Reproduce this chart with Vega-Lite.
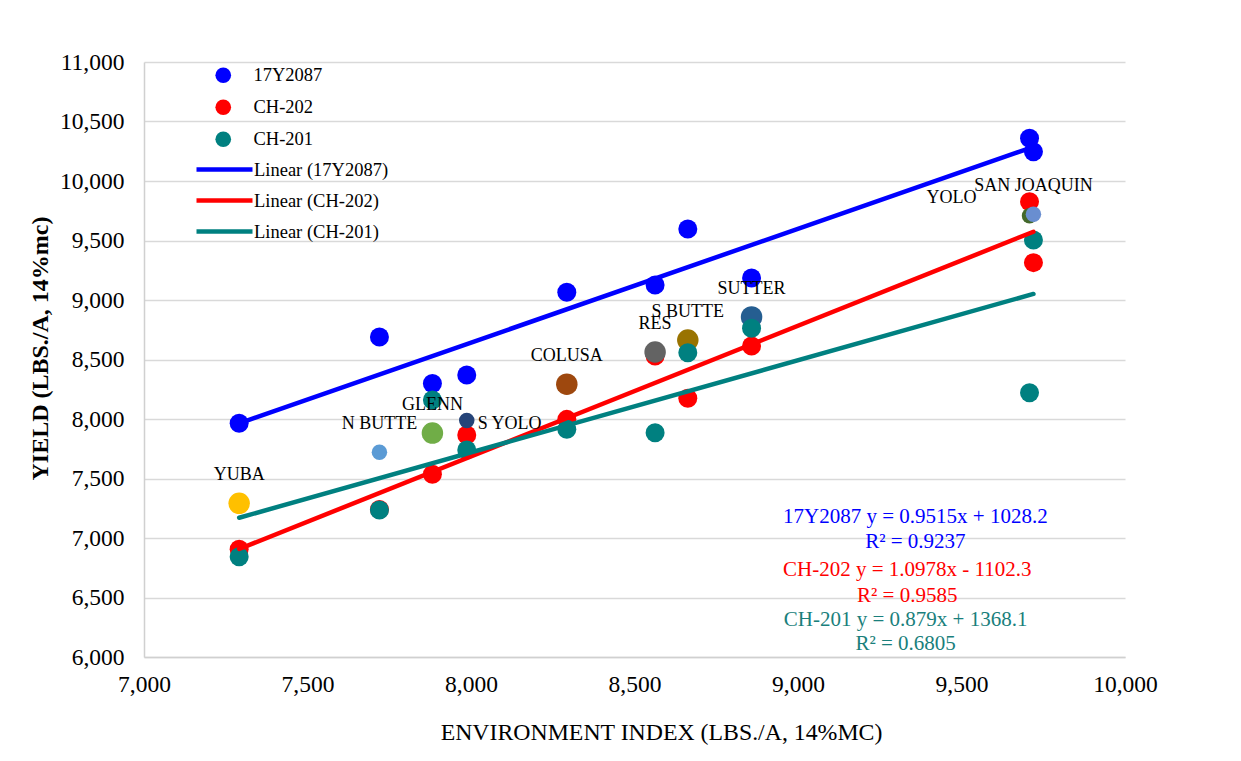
{
  "$schema": "https://vega.github.io/schema/vega-lite/v6.json",
  "width": 981,
  "height": 595,
  "autosize": {"type": "none"},
  "padding": {"left": 144, "top": 62, "right": 116, "bottom": 104},
  "background": "white",
  "config": {
    "font": "Liberation Serif",
    "view": {"stroke": null},
    "axis": {
      "labelFont": "Liberation Serif",
      "labelFontSize": 23.5,
      "labelColor": "#000000",
      "titleFont": "Liberation Serif",
      "titleColor": "#000000",
      "domainColor": "#D0D0D0",
      "domainWidth": 1.5,
      "gridColor": "#D9D9D9",
      "gridWidth": 1.5,
      "ticks": false,
      "tickSize": 0
    }
  },
  "datasets": {
    "trials": [
      {"env": "YUBA", "ei": 7291, "series": "17Y2087", "yield": 7964},
      {"env": "N BUTTE", "ei": 7720, "series": "17Y2087", "yield": 8689},
      {"env": "GLENN", "ei": 7882, "series": "17Y2087", "yield": 8298},
      {"env": "S YOLO", "ei": 7987, "series": "17Y2087", "yield": 8370},
      {"env": "COLUSA", "ei": 8293, "series": "17Y2087", "yield": 9065},
      {"env": "RES", "ei": 8563, "series": "17Y2087", "yield": 9126},
      {"env": "S BUTTE", "ei": 8663, "series": "17Y2087", "yield": 9597},
      {"env": "SUTTER", "ei": 8858, "series": "17Y2087", "yield": 9185},
      {"env": "YOLO", "ei": 9708, "series": "17Y2087", "yield": 10359},
      {"env": "SAN JOAQUIN", "ei": 9720, "series": "17Y2087", "yield": 10246},
      {"env": "YUBA", "ei": 7291, "series": "CH-202", "yield": 6905},
      {"env": "N BUTTE", "ei": 7720, "series": "CH-202", "yield": 7240},
      {"env": "GLENN", "ei": 7882, "series": "CH-202", "yield": 7535},
      {"env": "S YOLO", "ei": 7987, "series": "CH-202", "yield": 7866},
      {"env": "COLUSA", "ei": 8293, "series": "CH-202", "yield": 7997},
      {"env": "RES", "ei": 8563, "series": "CH-202", "yield": 8529},
      {"env": "S BUTTE", "ei": 8663, "series": "CH-202", "yield": 8174},
      {"env": "SUTTER", "ei": 8858, "series": "CH-202", "yield": 8613},
      {"env": "YOLO", "ei": 9708, "series": "CH-202", "yield": 9826},
      {"env": "SAN JOAQUIN", "ei": 9720, "series": "CH-202", "yield": 9314},
      {"env": "YUBA", "ei": 7291, "series": "CH-201", "yield": 6843},
      {"env": "N BUTTE", "ei": 7720, "series": "CH-201", "yield": 7235},
      {"env": "GLENN", "ei": 7882, "series": "CH-201", "yield": 8160},
      {"env": "S YOLO", "ei": 7987, "series": "CH-201", "yield": 7739},
      {"env": "COLUSA", "ei": 8293, "series": "CH-201", "yield": 7913},
      {"env": "RES", "ei": 8563, "series": "CH-201", "yield": 7885},
      {"env": "S BUTTE", "ei": 8663, "series": "CH-201", "yield": 8557},
      {"env": "SUTTER", "ei": 8858, "series": "CH-201", "yield": 8763},
      {"env": "YOLO", "ei": 9708, "series": "CH-201", "yield": 8221},
      {"env": "SAN JOAQUIN", "ei": 9720, "series": "CH-201", "yield": 9504}
    ],
    "sites": [
      {"env": "YUBA", "ei": 7291},
      {"env": "N BUTTE", "ei": 7720},
      {"env": "GLENN", "ei": 7882},
      {"env": "S YOLO", "ei": 7987},
      {"env": "COLUSA", "ei": 8293},
      {"env": "RES", "ei": 8563},
      {"env": "S BUTTE", "ei": 8663},
      {"env": "SUTTER", "ei": 8858},
      {"env": "YOLO", "ei": 9708},
      {"env": "SAN JOAQUIN", "ei": 9720}
    ],
    "equations": [
      {"series": "17Y2087", "label": "17Y2087 y = 0.9515x + 1028.2\nR² = 0.9237"},
      {"series": "CH-202", "label": "CH-202 y = 1.0978x - 1102.3\nR² = 0.9585"},
      {"series": "CH-201", "label": "CH-201 y = 0.879x + 1368.1\nR² = 0.6805"}
    ]
  },
  "layer": [
    {
      "data": {"name": "trials"},
      "transform": [{"filter": "datum.series !== 'CH-201'"}],
      "mark": {"type": "circle", "size": 361, "opacity": 1},
      "encoding": {
        "x": {
          "field": "ei",
          "type": "quantitative",
          "title": "ENVIRONMENT INDEX (LBS./A, 14%MC)",
          "scale": {"domain": [7000, 10000], "nice": false, "zero": false},
          "axis": {
            "values": [7000, 7500, 8000, 8500, 9000, 9500, 10000],
            "format": ",.0f",
            "grid": false,
            "labelPadding": 15,
            "labelFlush": false,
            "titleFontSize": 23.8,
            "titleFontWeight": "normal",
            "titleBaseline": "alphabetic",
            "titleX": 517,
            "titleY": 82
          }
        },
        "y": {
          "field": "yield",
          "type": "quantitative",
          "title": "YIELD (LBS./A, 14%mc)",
          "scale": {"domain": [6000, 11000], "nice": false, "zero": false},
          "axis": {
            "values": [6000, 6500, 7000, 7500, 8000, 8500, 9000, 9500, 10000, 10500, 11000],
            "format": ",.0f",
            "grid": true,
            "labelPadding": 20,
            "titleFontSize": 24,
            "titleFontWeight": "bold",
            "titleAngle": -90,
            "titleBaseline": "middle",
            "titleAlign": "center",
            "titleX": -104,
            "titleY": 286
          }
        },
        "color": {
          "field": "series",
          "type": "nominal",
          "scale": {
            "domain": ["17Y2087", "CH-202", "CH-201"],
            "range": ["#0000FF", "#FF0000", "#008080"]
          },
          "legend": {
            "orient": "none",
            "legendX": 70,
            "legendY": 4,
            "title": null,
            "padding": 0,
            "symbolType": "circle",
            "symbolSize": 246,
            "symbolStrokeWidth": 0,
            "labelFont": "Liberation Serif",
            "labelFontSize": 18.5,
            "labelColor": "#000000",
            "labelOffset": 21,
            "rowPadding": 13
          }
        }
      }
    },
    {
      "data": {"name": "sites"},
      "mark": {"type": "circle", "opacity": 1},
      "encoding": {
        "x": {"field": "ei", "type": "quantitative", "title": "ENVIRONMENT INDEX (LBS./A, 14%MC)"},
        "y": {"field": "ei", "type": "quantitative", "title": "YIELD (LBS./A, 14%mc)"},
        "fill": {
          "field": "env",
          "type": "nominal",
          "scale": {
            "domain": ["YUBA", "N BUTTE", "GLENN", "S YOLO", "COLUSA", "RES", "S BUTTE", "SUTTER", "YOLO", "SAN JOAQUIN"],
            "range": ["#FFC000", "#5B9BD5", "#70AD47", "#264478", "#9E480E", "#636363", "#997300", "#255E91", "#43682B", "#698ED0"]
          },
          "legend": null
        },
        "size": {
          "condition": {"test": "indexof(['N BUTTE', 'S YOLO', 'YOLO', 'SAN JOAQUIN'], datum.env) >= 0", "value": 240},
          "value": 462
        }
      }
    },
    {
      "data": {"name": "trials"},
      "transform": [{"filter": "datum.series === 'CH-201'"}],
      "mark": {"type": "circle", "size": 361, "opacity": 1},
      "encoding": {
        "x": {"field": "ei", "type": "quantitative", "title": "ENVIRONMENT INDEX (LBS./A, 14%MC)"},
        "y": {"field": "yield", "type": "quantitative", "title": "YIELD (LBS./A, 14%mc)"},
        "color": {"field": "series", "type": "nominal"}
      }
    },
    {
      "data": {"name": "trials"},
      "transform": [{"regression": "yield", "on": "ei", "groupby": ["series"]}],
      "mark": {"type": "line", "strokeWidth": 4.5, "strokeCap": "round"},
      "encoding": {
        "x": {"field": "ei", "type": "quantitative", "title": "ENVIRONMENT INDEX (LBS./A, 14%MC)"},
        "y": {"field": "yield", "type": "quantitative", "title": "YIELD (LBS./A, 14%mc)"},
        "stroke": {
          "field": "series",
          "type": "nominal",
          "sort": ["17Y2087", "CH-202", "CH-201"],
          "scale": {"range": ["#0000FF", "#FF0000", "#008080"]},
          "legend": {
            "orient": "none",
            "legendX": 68,
            "legendY": 95,
            "title": null,
            "padding": 0,
            "symbolType": "M-2.8,0H2.8",
            "symbolSize": 400,
            "symbolStrokeWidth": 4.5,
            "labelFont": "Liberation Serif",
            "labelFontSize": 18.5,
            "labelColor": "#000000",
            "labelOffset": 17,
            "rowPadding": 9,
            "labelExpr": "'Linear (' + datum.label + ')'"
          }
        }
      }
    },
    {
      "data": {"name": "sites"},
      "transform": [{"filter": "datum.env !== 'S YOLO' && datum.env !== 'YOLO'"}],
      "mark": {"type": "text", "fontSize": 18, "color": "#000000", "baseline": "middle", "align": "center", "dy": -28},
      "encoding": {
        "x": {"field": "ei", "type": "quantitative", "title": "ENVIRONMENT INDEX (LBS./A, 14%MC)"},
        "y": {"field": "ei", "type": "quantitative", "title": "YIELD (LBS./A, 14%mc)"},
        "text": {"field": "env"}
      }
    },
    {
      "data": {"name": "sites"},
      "transform": [{"filter": "datum.env === 'S YOLO'"}],
      "mark": {"type": "text", "fontSize": 18, "color": "#000000", "baseline": "middle", "align": "left", "dx": 11, "dy": 3},
      "encoding": {
        "x": {"field": "ei", "type": "quantitative", "title": "ENVIRONMENT INDEX (LBS./A, 14%MC)"},
        "y": {"field": "ei", "type": "quantitative", "title": "YIELD (LBS./A, 14%mc)"},
        "text": {"field": "env"}
      }
    },
    {
      "data": {"name": "sites"},
      "transform": [{"filter": "datum.env === 'YOLO'"}],
      "mark": {"type": "text", "fontSize": 18, "color": "#000000", "baseline": "middle", "align": "center", "dx": -78, "dy": -18},
      "encoding": {
        "x": {"field": "ei", "type": "quantitative", "title": "ENVIRONMENT INDEX (LBS./A, 14%MC)"},
        "y": {"field": "ei", "type": "quantitative", "title": "YIELD (LBS./A, 14%mc)"},
        "text": {"field": "env"}
      }
    },
    {
      "data": {"name": "equations"},
      "transform": [{"filter": "datum.series === '17Y2087'"}],
      "mark": {"type": "text", "fontSize": 21, "fill": "#0000FF", "align": "center", "baseline": "middle", "lineBreak": "\n", "lineHeight": 25},
      "encoding": {
        "x": {"datum": 9359, "type": "quantitative"},
        "y": {"datum": 7176, "type": "quantitative"},
        "text": {"field": "label", "type": "nominal"}
      }
    },
    {
      "data": {"name": "equations"},
      "transform": [{"filter": "datum.series === 'CH-202'"}],
      "mark": {"type": "text", "fontSize": 21, "fill": "#FF0000", "align": "center", "baseline": "middle", "lineBreak": "\n", "lineHeight": 26},
      "encoding": {
        "x": {"datum": 9334, "type": "quantitative"},
        "y": {"datum": 6731, "type": "quantitative"},
        "text": {"field": "label", "type": "nominal"}
      }
    },
    {
      "data": {"name": "equations"},
      "transform": [{"filter": "datum.series === 'CH-201'"}],
      "mark": {"type": "text", "fontSize": 21, "fill": "#1A7F7C", "align": "center", "baseline": "middle", "lineBreak": "\n", "lineHeight": 24},
      "encoding": {
        "x": {"datum": 9329, "type": "quantitative"},
        "y": {"datum": 6307, "type": "quantitative"},
        "text": {"field": "label", "type": "nominal"}
      }
    }
  ]
}
